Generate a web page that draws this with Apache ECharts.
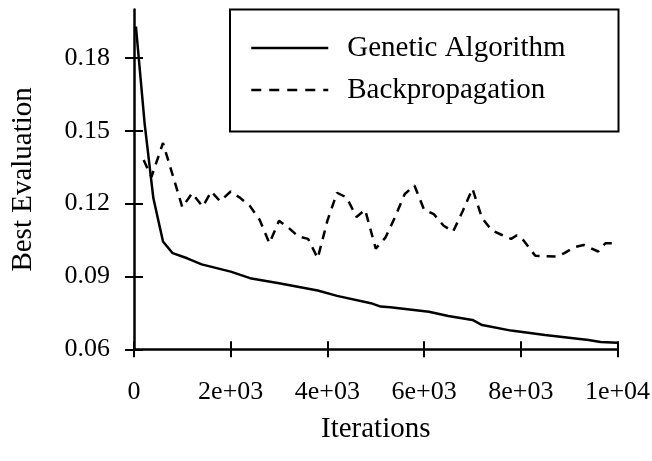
<!DOCTYPE html>
<html>
<head>
<meta charset="utf-8">
<script src="https://cdn.jsdelivr.net/npm/echarts@6/dist/echarts.min.js"></script>
<style>
  html, body { margin: 0; padding: 0; background: #fff; }
  #chart { width: 652px; height: 461px; }
</style>
</head>
<body>
<div id="chart"></div>
<script>
// Valores
const seriesNames = ['Genetic Algorithm', 'Backpropagation'];

const gaIter = [40, 220, 400, 600, 800, 1100, 1400, 2000, 2400, 3000, 3800, 4200, 4900, 5100, 5300, 6100, 6500, 7000, 7200, 7800, 8500, 9400, 9650, 10000];
const gaValues = [0.193, 0.153, 0.1223, 0.1044, 0.0996, 0.0975, 0.095, 0.092, 0.0893, 0.0872, 0.0842, 0.082, 0.079, 0.0776, 0.0773, 0.0755, 0.0737, 0.0721, 0.070, 0.0677, 0.0659, 0.0638, 0.063, 0.0627];

const bpIter = [200, 360, 600, 1000, 1200, 1420, 1600, 1780, 2000, 2200, 2400, 2600, 2800, 3000, 3200, 3400, 3600, 3800, 4000, 4200, 4400, 4600, 4780, 5000, 5200, 5400, 5600, 5800, 6000, 6200, 6400, 6600, 6800, 7000, 7200, 7400, 7600, 7800, 7920, 8050, 8300, 8750, 8900, 9100, 9300, 9600, 9750, 10000];
const bpValues = [0.138, 0.131, 0.145, 0.1185, 0.1243, 0.1188, 0.125, 0.121, 0.125, 0.1223, 0.119, 0.1133, 0.1037, 0.113, 0.110, 0.1065, 0.1055, 0.0975, 0.113, 0.1245, 0.1225, 0.1145, 0.1175, 0.1015, 0.106, 0.1145, 0.124, 0.1275, 0.1175, 0.1157, 0.111, 0.1085, 0.117, 0.1262, 0.114, 0.109, 0.1072, 0.1055, 0.107, 0.105, 0.0985, 0.0982, 0.0996, 0.102, 0.103, 0.1003, 0.1037, 0.1037];

const xTicks = [0, 2000, 4000, 6000, 8000, 10000];
const xTickLabels = ['0', '2e+03', '4e+03', '6e+03', '8e+03', '1e+04'];
const yTicks = [0.06, 0.09, 0.12, 0.15, 0.18];
const yTickLabels = ['0.06', '0.09', '0.12', '0.15', '0.18'];

const FONT = 'Liberation Serif';

function pairs(xs, ys) {
    return xs.map((x, i) => [x, ys[i]]);
}

function labelFor(ticks, labels) {
    return v => {
        const i = ticks.findIndex(t => Math.abs(t - v) < 1e-9);
        return i >= 0 ? labels[i] : '';
    };
}

const chart = echarts.init(document.getElementById('chart'));

const axisLine = { show: true, onZero: false, lineStyle: { color: '#000', width: 2.5 } };

chart.setOption({
    animation: false,
    backgroundColor: '#fff',
    grid: { left: 134, right: 34.5, top: 9.5, bottom: 111.7, outerBoundsMode: 'none' },
    legend: {
        left: 230,
        top: 9.5,
        orient: 'vertical',
        padding: [24, 53, 27, 20],
        itemGap: 13,
        itemWidth: 77,
        itemHeight: 14,
        borderColor: '#000',
        borderWidth: 2,
        itemStyle: { color: 'transparent', borderWidth: 0, opacity: 0 },
        textStyle: { fontFamily: FONT, fontSize: 29, lineHeight: 29, color: '#000', padding: [0, 0, 0, 14] },
        data: [
            { name: seriesNames[0], lineStyle: { width: 2.5, type: 'solid' } },
            { name: seriesNames[1], lineStyle: { width: 2.5, type: [10, 8] } }
        ]
    },
    xAxis: [
        {
            type: 'value', position: 'bottom', min: 0, max: 10000, interval: 2000,
            axisLine: axisLine,
            axisTick: { show: true, inside: true, length: 8, lineStyle: { color: '#000', width: 2 } },
            axisLabel: { show: false },
            splitLine: { show: false }
        },
        {
            type: 'value', position: 'bottom', min: 0, max: 10000, interval: 2000,
            axisLine: { show: false },
            axisTick: { show: true, inside: false, length: 8, lineStyle: { color: '#000', width: 2 } },
            axisLabel: {
                margin: 30, fontFamily: FONT, fontSize: 26, color: '#000',
                formatter: labelFor(xTicks, xTickLabels)
            },
            splitLine: { show: false },
            name: 'Iterations', nameLocation: 'middle', nameGap: 66,
            nameTextStyle: { fontFamily: FONT, fontSize: 29, color: '#000' }
        }
    ],
    yAxis: [
        {
            type: 'value', position: 'left', min: 0.06, max: 0.2,
            axisLine: axisLine,
            axisTick: { show: true, inside: true, length: 9, customValues: yTicks, lineStyle: { color: '#000', width: 2 } },
            axisLabel: { show: false },
            splitLine: { show: false }
        },
        {
            type: 'value', position: 'left', min: 0.06, max: 0.2,
            axisLine: { show: false },
            axisTick: { show: true, inside: false, length: 9, customValues: yTicks, lineStyle: { color: '#000', width: 2 } },
            axisLabel: {
                margin: 24, fontFamily: FONT, fontSize: 26, color: '#000',
                customValues: yTicks,
                formatter: labelFor(yTicks, yTickLabels)
            },
            splitLine: { show: false },
            name: 'Best Evaluation', nameLocation: 'middle', nameGap: 96,
            nameTextStyle: { fontFamily: FONT, fontSize: 29, color: '#000' }
        }
    ],
    series: [
        {
            name: seriesNames[0], type: 'line', xAxisIndex: 0, yAxisIndex: 0,
            data: pairs(gaIter, gaValues),
            symbol: 'none', smooth: false,
            lineStyle: { color: '#000', width: 2.5, type: 'solid' },
            itemStyle: { color: '#000' }
        },
        {
            name: seriesNames[1], type: 'line', xAxisIndex: 0, yAxisIndex: 0,
            data: pairs(bpIter, bpValues),
            symbol: 'none', smooth: false,
            lineStyle: { color: '#000', width: 2.5, type: [9, 7] },
            itemStyle: { color: '#000' }
        }
    ]
});
</script>
</body>
</html>
